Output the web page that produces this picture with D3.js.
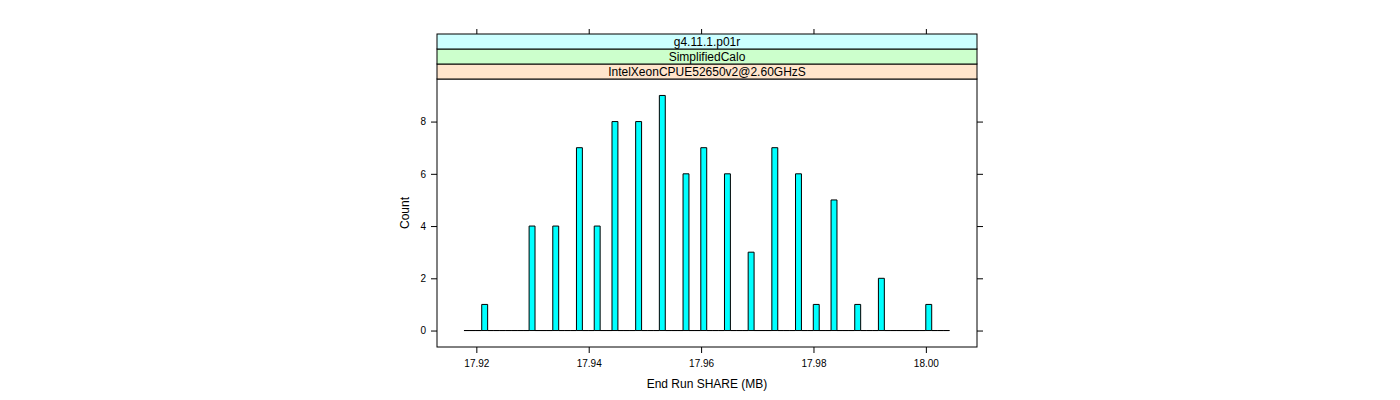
<!DOCTYPE html>
<html><head><meta charset="utf-8">
<script src="https://cdn.jsdelivr.net/npm/d3@7"></script>
<style>body{margin:0;background:#fff} text{font-family:"Liberation Sans",Arial,Helvetica,sans-serif;fill:#000}</style>
</head><body><svg id="c" width="1400" height="400"></svg>
<script>
// Observed End Run SHARE values (MB) and how many runs had each value
const shareValues = [17.9215, 17.9299, 17.9341, 17.9383, 17.9415, 17.9447, 17.9489, 17.9531, 17.9573,
  17.9605, 17.9647, 17.9689, 17.9731, 17.9773, 17.9805, 17.9837, 17.9879, 17.9921, 18.0005];
const counts = [1, 4, 4, 7, 4, 8, 8, 9, 6, 7, 6, 3, 7, 6, 1, 5, 1, 2, 1];
const xTicks = [17.92, 17.94, 17.96, 17.98, 18.00];
const yTicks = [0, 2, 4, 6, 8];
const stripLabels = ["IntelXeonCPUE52650v2@2.60GHzS", "SimplifiedCalo", "g4.11.1.p01r"];
const stripColors = ["#ffe5cc", "#ccffcc", "#ccffff"];
const histRange = [17.9178, 18.0042];
const nBins = 82;
const xLabel = "End Run SHARE (MB)";
const yLabel = "Count";

const svg = d3.select("#c");
const P = {l: 437, r: 977, t: 79, b: 347};
const stripH = 15;

const x = d3.scaleLinear().domain([17.9130, 18.0091]).range([P.l, P.r]);
const y = d3.scaleLinear().domain([-0.63, 9.63]).range([P.b, P.t]);

const obs = shareValues.map((v, i) => ({v, c: counts[i]}));
const step = (histRange[1] - histRange[0]) / nBins;
const thresholds = d3.range(1, nBins).map(k => histRange[0] + k * step);
const bins = d3.bin().domain(histRange).thresholds(thresholds).value(d => d.v)(obs);

// bars (zero-count bins drawn as flat outlines along 0)
svg.append("g").selectAll("path").data(bins).join("path")
  .attr("d", b => {
    const x0 = x(b.x0), x1 = x(b.x1), y0 = y(0), y1 = y(d3.sum(b, d => d.c));
    return `M${x0},${y0}H${x1}V${y1}H${x0}Z`;
  })
  .attr("fill", "#00ffff").attr("stroke", "#000").attr("stroke-width", 1);

// panel border
svg.append("rect").attr("x", P.l).attr("y", P.t).attr("width", P.r - P.l).attr("height", P.b - P.t)
  .attr("fill", "none").attr("stroke", "#000");

// strips
const stripTop = P.t - stripH * stripLabels.length;
stripLabels.forEach((lab, i) => {
  const yy = P.t - stripH * (i + 1);
  svg.append("rect").attr("x", P.l).attr("y", yy).attr("width", P.r - P.l).attr("height", stripH)
    .attr("fill", stripColors[i]).attr("stroke", "#000");
  svg.append("text").attr("x", (P.l + P.r) / 2).attr("y", yy + 12).attr("text-anchor", "middle")
    .attr("font-size", 12).text(lab);
});

// x axis bottom
const xa = d3.axisBottom(x).tickValues(xTicks).tickSize(6).tickPadding(7).tickFormat(d3.format(".2f"));
const gxb = svg.append("g").attr("transform", `translate(0,${P.b})`).call(xa);
gxb.select(".domain").remove();
gxb.selectAll("text").attr("font-size", 10).attr("font-family", null);
// x axis top (ticks only)
const gxt = svg.append("g").attr("transform", `translate(0,${stripTop})`)
  .call(d3.axisTop(x).tickValues(xTicks).tickSize(5).tickFormat(""));
gxt.select(".domain").remove();

// y axis left
const gyl = svg.append("g").attr("transform", `translate(${P.l},0)`)
  .call(d3.axisLeft(y).tickValues(yTicks).tickSize(6).tickPadding(5));
gyl.select(".domain").remove();
gyl.selectAll("text").attr("font-size", 10).attr("font-family", null);
// y axis right (ticks only)
const gyr = svg.append("g").attr("transform", `translate(${P.r},0)`)
  .call(d3.axisRight(y).tickValues(yTicks).tickSize(6).tickFormat(""));
gyr.select(".domain").remove();

svg.selectAll(".tick line").attr("stroke", "#000");

// titles
svg.append("text").attr("x", (P.l + P.r) / 2).attr("y", 388).attr("text-anchor", "middle")
  .attr("font-size", 12).text(xLabel);
svg.append("text").attr("transform", `translate(409,${(P.t + P.b) / 2}) rotate(-90)`)
  .attr("text-anchor", "middle").attr("font-size", 12).text(yLabel);
</script>
</body></html>
